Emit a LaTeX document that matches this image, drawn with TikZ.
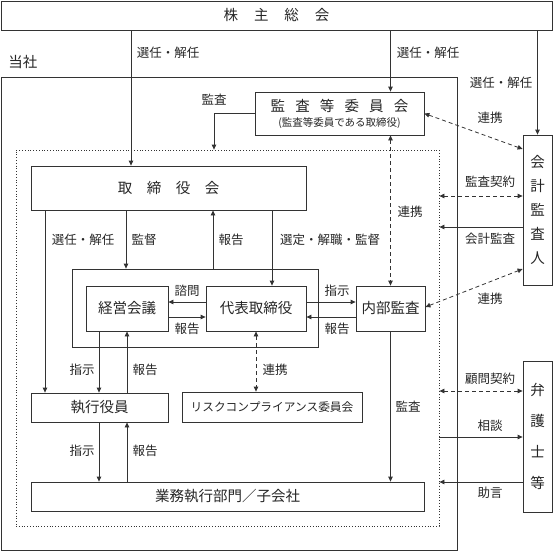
\documentclass[tikz,border=0pt]{standalone}
\usepackage{fontspec}
\setmainfont{Noto Sans CJK JP}
\usetikzlibrary{positioning}
\usetikzlibrary{arrows.meta}
\usepackage{xcolor}

\tikzset{
  box/.style={draw=black!80, line width=0.8pt, inner sep=0pt, text=black!85,
    font=\fontsize{14.5}{17}\selectfont},
  lab/.style={inner sep=0pt, text=black!85, font=\fontsize{12.5}{15}\selectfont},
  arr/.style={draw=black!80, line width=0.8pt, -{Triangle[length=5pt,width=4.5pt]}},
  link/.style={draw=black!80, line width=0.8pt, dash pattern=on 4pt off 3pt,
    {Triangle[length=5pt,width=4.5pt]}-{Triangle[length=5pt,width=4.5pt]}}
}

\begin{document}
\begin{tikzpicture}[x=1pt, y=-1pt]

\useasboundingbox (0,0) rectangle (554,551);

% frames
\node[box, minimum width=456pt, minimum height=473pt] (tosha) at (229,313.5) {};
\node[box, dotted, minimum width=423pt, minimum height=376pt] (shanai) at (227.5,338) {};
\node[lab, font=\fontsize{14.5}{17}\selectfont] (toshalab) at (23,62) {当社};

% boxes
\node[box, minimum width=551pt, minimum height=29pt] (soukai) at (276.5,15.5)
  {株\hspace{1.1em}主\hspace{1.1em}総\hspace{1.1em}会};
\node[box, align=center, minimum width=169pt, minimum height=43pt] (kansa) at (339.5,113.5)
  {監\hspace{.7em}査\hspace{.7em}等\hspace{.7em}委\hspace{.7em}員\hspace{.7em}会\\[-2pt]
   {\fontsize{10.5}{12}\selectfont (監査等委員である取締役)}};
\node[box, minimum width=275pt, minimum height=44pt] (torishimari) at (168.5,188)
  {取\hspace{1em}締\hspace{1em}役\hspace{1em}会};
\node[box, minimum width=246pt, minimum height=78pt] (naibugroup) at (195,308) {};
\node[box, minimum width=82pt, minimum height=45pt] (keiei) at (127,308.5) {経営会議};
\node[box, minimum width=100pt, minimum height=45pt] (daihyo) at (256,308.5) {代表取締役};
\node[box, minimum width=69pt, minimum height=45pt] (naibu) at (390.5,308.5) {内部監査};
\node[box, minimum width=137pt, minimum height=29pt] (shikko) at (99.5,407.5) {執行役員};
\node[box, minimum width=180pt, minimum height=30pt, font=\fontsize{11.7}{14}\selectfont]
  (risk) at (272,407) {リスクコンプライアンス委員会};
\node[box, minimum width=393pt, minimum height=29pt] (gyomu) at (227.5,496.5) {業務執行部門／子会社};
\node[box, align=center, minimum width=29pt, minimum height=150pt,
  font=\fontsize{14.5}{24}\selectfont] (kaikei) at (537.5,210) {会\\計\\監\\査\\人};
\node[box, align=center, minimum width=29pt, minimum height=151pt,
  font=\fontsize{14.5}{31}\selectfont] (bengoshi) at (537.5,436.5) {弁\\護\\士\\等};

% shareholders
\draw[arr] (soukai.south -| 131,0) -- (torishimari.north -| 131,0);
\draw[arr] (soukai.south -| naibu) -- (kansa.north -| naibu);
\draw[arr] (soukai.south -| kaikei) -- (kaikei.north);
\node[lab] (l1) at (168,53) {選任・解任};
\node[lab] (l2) at (428,53) {選任・解任};
\node[lab] (l3) at (501,83) {選任・解任};

% audit committee
\draw[arr] (kansa.west) -| (shanai.north -| 214,0);
\node[lab] (l4) at (214,100) {監査};
\draw[link] (kansa.east) -- (kaikei.west |- 0,149);
\node[lab] (l5) at (490,118) {連携};
\draw[link] (kansa.south -| naibu) -- (naibu.north);
\node[lab] (l6) at (410,212) {連携};

% board
\draw[arr] (torishimari.south -| 45,0) -- (shikko.north -| 45,0);
\draw[arr] (torishimari.south -| 126,0) -- (naibugroup.north -| 126,0);
\draw[arr] (naibugroup.north -| 213,0) -- (torishimari.south -| 213,0);
\draw[arr] (torishimari.south -| 272,0) -- (daihyo.north -| 272,0);
\node[lab] (l7) at (83,240) {選任・解任};
\node[lab] (l8) at (144,240) {監督};
\node[lab] (l9) at (231,240) {報告};
\node[lab] (l10) at (330,240) {選定・解職・監督};

% management
\draw[arr] (daihyo.west |- 0,302) -- (keiei.east |- 0,302);
\draw[arr] (keiei.east |- 0,317) -- (daihyo.west |- 0,317);
\draw[arr] (daihyo.east |- 0,302) -- (naibu.west |- 0,302);
\draw[arr] (naibu.west |- 0,317) -- (daihyo.east |- 0,317);
\node[lab] (l11) at (187,291) {諮問};
\node[lab] (l12) at (187,329) {報告};
\node[lab] (l13) at (337,291) {指示};
\node[lab] (l14) at (337,329) {報告};

% accounting auditor
\draw[link] (shanai.east |- 0,196) -- (kaikei.west |- 0,196);
\draw[arr] (kaikei.west |- 0,227) -- (shanai.east |- 0,227);
\draw[link] (naibu.east |- 0,307) -- (kaikei.west |- 0,269);
\node[lab] (l15) at (490,182) {監査契約};
\node[lab] (l16) at (490,239) {会計監査};
\node[lab] (l17) at (490,299) {連携};

% executives
\draw[arr] (keiei.south -| 99,0) -- (shikko.north -| 99,0);
\draw[arr] (shikko.north -| keiei) -- (keiei.south);
\draw[link] (daihyo.south) -- (risk.north -| daihyo);
\node[lab] (l18) at (82,370) {指示};
\node[lab] (l19) at (145,370) {報告};
\node[lab] (l20) at (275,370) {連携};

\draw[arr] (shikko.south -| 99,0) -- (gyomu.north -| 99,0);
\draw[arr] (gyomu.north -| 127,0) -- (shikko.south -| 127,0);
\draw[arr] (naibu.south) -- (gyomu.north -| naibu);
\node[lab] (l21) at (82,451) {指示};
\node[lab] (l22) at (145,451) {報告};
\node[lab] (l23) at (408,407) {監査};

% lawyers
\draw[link] (shanai.east |- 0,391) -- (bengoshi.west |- 0,391);
\draw[arr] (shanai.east |- 0,437) -- (bengoshi.west |- 0,437);
\draw[arr] (bengoshi.west |- 0,482) -- (shanai.east |- 0,482);
\node[lab] (l24) at (490,379) {顧問契約};
\node[lab] (l25) at (490,426) {相談};
\node[lab] (l26) at (490,493) {助言};

\end{tikzpicture}
\end{document}
